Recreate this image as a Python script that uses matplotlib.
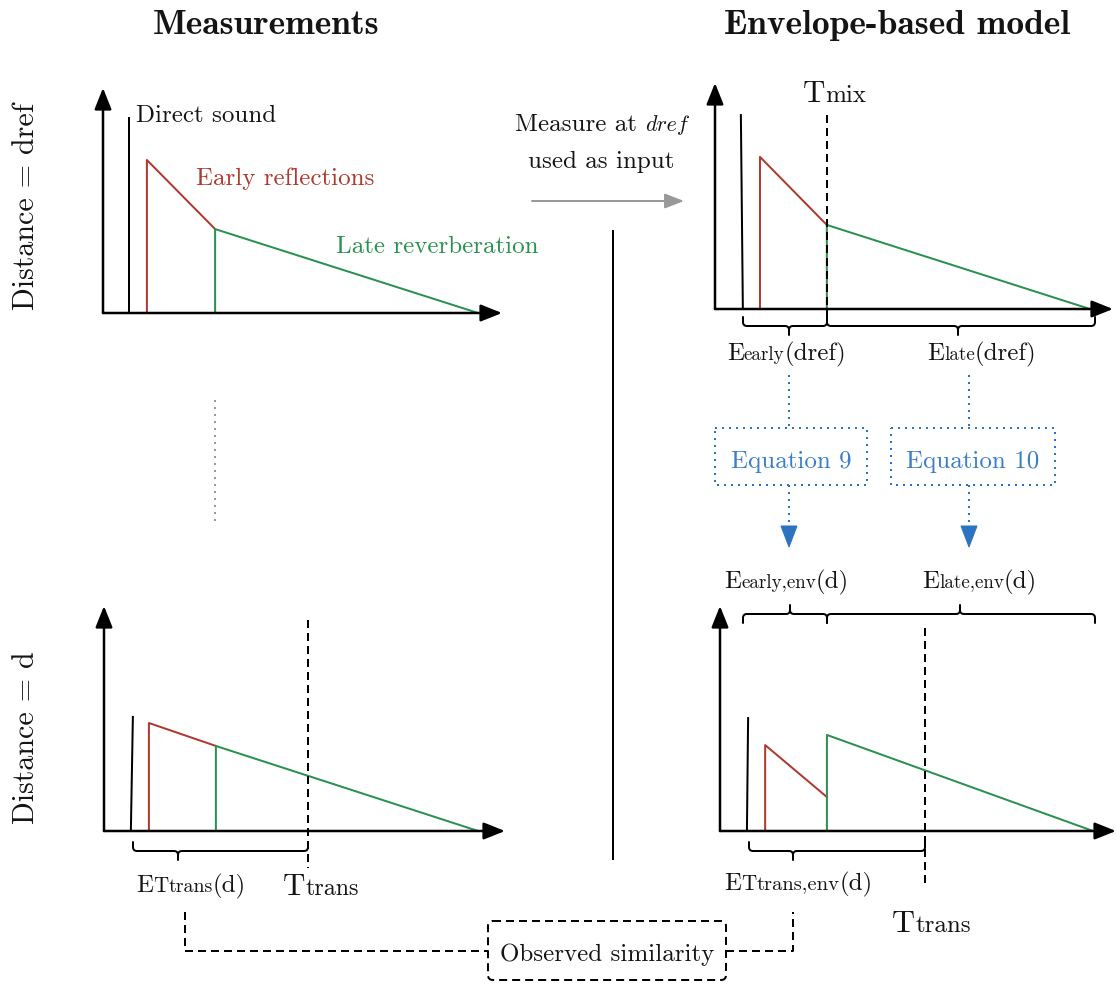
import numpy as np
import matplotlib
matplotlib.use('Agg')
import matplotlib.pyplot as plt
from matplotlib.path import Path
from matplotlib.patches import PathPatch, Rectangle, FancyBboxPatch, Polygon

# envelope values, time and level as fraction of each drawn axis
# measurement at dref (top left)
mref_direct_t = [0.065, 0.065]
mref_direct_lvl = [0.0, 0.867]
mref_early_t = [0.110, 0.110, 0.281]
mref_early_lvl = [0.0, 0.680, 0.373]
mref_late_t = [0.281, 0.281, 0.940]
mref_late_lvl = [0.0, 0.373, 0.0]

# model input at dref (top right)
env_ref_direct_t = [0.065, 0.070]
env_ref_direct_lvl = [0.858, 0.0]
env_ref_early_t = [0.113, 0.113, 0.281]
env_ref_early_lvl = [0.0, 0.673, 0.372]
env_ref_late_t = [0.281, 0.281, 0.942]
env_ref_late_lvl = [0.0, 0.372, 0.0]
t_mix = 0.281

# measurement at d (bottom left)
md_direct_t = [0.072, 0.067]
md_direct_lvl = [0.507, 0.0]
md_early_t = [0.112, 0.112, 0.279]
md_early_lvl = [0.0, 0.480, 0.378]
md_late_t = [0.279, 0.279, 0.933]
md_late_lvl = [0.0, 0.378, 0.0]
md_t_trans = 0.509

# model at d (bottom right)
env_d_direct_t = [0.071, 0.068]
env_d_direct_lvl = [0.502, 0.0]
env_d_early_t = [0.114, 0.114, 0.270]
env_d_early_lvl = [0.0, 0.382, 0.151]
env_d_late_t = [0.270, 0.270, 0.942]
env_d_late_lvl = [0.0, 0.427, 0.0]
env_d_t_trans = 0.518

W, H = 1116, 983
RED = '#b0392f'
GREEN = '#2a9150'
BLUE = '#2c73c0'
BLUE_TXT = '#3a7ec6'
TXT = '#141414'
DASH = (0, (4, 2.5))
DOT = (0, (1, 2.5))

fig = plt.figure(figsize=(W / 72, H / 72), dpi=72)
ov = fig.add_axes([0, 0, 1, 1])
ov.set_xlim(0, W)
ov.set_ylim(H, 0)
ov.axis('off')
renderer = fig.canvas.get_renderer()


def rich(x, y, pieces, ha='left', color=TXT, rot=False):
    # pieces of (text, size[, family]) drawn on a common baseline
    arts = []
    for p in pieces:
        fam = p[2] if len(p) > 2 else 'cmr10'
        t = ov.text(0, 0, p[0], fontsize=p[1], family=fam, color=color,
                    ha='left', va='baseline', rotation=90 if rot else 0,
                    rotation_mode='anchor')
        arts.append(t)
    sizes = []
    for t in arts:
        bb = t.get_window_extent(renderer)
        sizes.append(bb.height if rot else bb.width)
    total = sum(sizes)
    start = {'left': 0, 'center': -total / 2, 'right': -total}[ha]
    pos = start
    for t, s in zip(arts, sizes):
        if rot:
            t.set_position((x, y - pos))
        else:
            t.set_position((x + pos, y))
        pos += s
    return arts


def brace(x0, x1, xm, y, d, h=9, r=4):
    verts = [(x0, y - d * h), (x0, y - d * r), (x0, y), (x0 + r, y),
             (xm - r, y), (xm, y), (xm, y + d * r), (xm, y + d * h),
             (xm, y + d * r), (xm, y), (xm + r, y),
             (x1 - r, y), (x1, y), (x1, y - d * r), (x1, y - d * h)]
    codes = [Path.MOVETO, Path.LINETO, Path.CURVE3, Path.CURVE3,
             Path.LINETO, Path.CURVE3, Path.CURVE3, Path.LINETO,
             Path.MOVETO, Path.CURVE3, Path.CURVE3,
             Path.LINETO, Path.CURVE3, Path.CURVE3, Path.LINETO]
    ov.add_patch(PathPatch(Path(verts, codes), fill=False, lw=2, ec='k',
                           capstyle='round', joinstyle='round'))


def panel(x0, y0, lx, ly, direct, early, late, vline=None):
    ax = fig.add_axes([x0 / W, (H - y0) / H, lx / W, ly / H])
    ax.set_xlim(0, 1)
    ax.set_ylim(0, 1)
    ax.axis('off')
    ap = dict(arrowstyle='-|>,head_length=1.0,head_width=0.4', lw=2.5,
              color='k', mutation_scale=18, shrinkA=0, shrinkB=0)
    ax.annotate('', xy=(1, 0), xytext=(0, 0), xycoords='axes fraction',
                arrowprops=ap, annotation_clip=False)
    ax.annotate('', xy=(0, 1), xytext=(0, 0), xycoords='axes fraction',
                arrowprops=ap, annotation_clip=False)
    ax.plot(direct[0], direct[1], color='k', lw=2, clip_on=False)
    ax.plot(early[0], early[1], color=RED, lw=2, clip_on=False)
    ax.plot(late[0], late[1], color=GREEN, lw=2, clip_on=False)
    if vline is not None:
        ax.plot([vline[0]] * 2, vline[1:], color='k', lw=2, ls=DASH, clip_on=False)
    return ax


# four envelope panels
panel(103, 313, 399, 225, (mref_direct_t, mref_direct_lvl),
      (mref_early_t, mref_early_lvl), (mref_late_t, mref_late_lvl))
panel(715, 309, 398, 226, (env_ref_direct_t, env_ref_direct_lvl),
      (env_ref_early_t, env_ref_early_lvl), (env_ref_late_t, env_ref_late_lvl),
      vline=(t_mix, 0.858, -0.07))
panel(104, 831, 401, 225, (md_direct_t, md_direct_lvl),
      (md_early_t, md_early_lvl), (md_late_t, md_late_lvl),
      vline=(md_t_trans, 0.938, -0.164))
panel(720, 831, 396, 225, (env_d_direct_t, env_d_direct_lvl),
      (env_d_early_t, env_d_early_lvl), (env_d_late_t, env_d_late_lvl),
      vline=(env_d_t_trans, 0.902, -0.253))

# titles
ov.text(266, 34, 'Measurements', family='cmb10', fontsize=35.5, color=TXT,
        ha='center', va='baseline')
ov.text(897, 34, 'Envelope-based model', family='cmb10', fontsize=35.5,
        color=TXT, ha='center', va='baseline')

# row labels
rich(34, 206, [('Distance = dref', 30)], ha='center', rot=True)
rich(34, 738, [('Distance = d', 30)], ha='center', rot=True)

# top left labels
rich(136, 122, [('Direct sound', 25)])
rich(196, 185, [('Early reflections', 25)], color=RED)
rich(336, 253, [('Late reverberation', 25)], color=GREEN)

# input arrow
rich(601, 131, [('Measure at ', 25), ('dref', 22, 'cmmi10')], ha='center')
rich(601, 168, [('used as input', 25)], ha='center')
ov.annotate('', xy=(684, 201), xytext=(532, 201),
            arrowprops=dict(arrowstyle='-|>,head_length=0.9,head_width=0.35',
                            lw=2, color='#999999', mutation_scale=18,
                            shrinkA=0, shrinkB=0))

# separators
ov.plot([613, 613], [231, 859], color='k', lw=2)
ov.plot([215, 215], [400, 523], color='#999999', lw=2, ls=DOT)

# top right annotations
rich(803, 102, [('T', 31), ('mix', 25)])
brace(743, 827, 789, 326, 1)
brace(827, 1095, 958, 326, 1)
rich(727, 360, [('E', 25), ('early', 19), ('(dref)', 25)])
rich(927, 360, [('E', 25), ('late', 19), ('(dref)', 25)])

# equation boxes
for cx, x0, x1, label in [(789, 715, 867, 'Equation 9'), (969, 891, 1055, 'Equation 10')]:
    ov.plot([cx, cx], [375, 428], color=BLUE, lw=2, ls=DOT)
    ov.add_patch(Rectangle((x0, 428), x1 - x0, 57, fill=False, ec=BLUE,
                           lw=2, ls=DOT))
    rich((x0 + x1) / 2, 468, [(label, 25)], ha='center', color=BLUE_TXT)
    ov.plot([cx, cx], [485, 527], color=BLUE, lw=2, ls=DOT)
    ov.add_patch(Polygon([(cx - 8, 526), (cx + 8, 526), (cx, 547)],
                         closed=True, fc=BLUE, ec=BLUE, lw=1))

rich(724, 588, [('E', 25), ('early,env', 19), ('(d)', 25)])
rich(922, 588, [('E', 25), ('late,env', 19), ('(d)', 25)])
brace(743, 827, 790, 614, -1)
brace(827, 1095, 960, 614, -1)

# bottom annotations
brace(133, 308, 178, 851, 1)
rich(136, 892, [('E', 25), ('T', 21), ('trans', 20), ('(d)', 25)])
rich(283, 895, [('T', 31), ('trans', 24)])
brace(749, 925, 793, 851, 1)
rich(724, 890, [('E', 25), ('T', 21), ('trans,env', 20.5), ('(d)', 25)])
rich(892, 932, [('T', 32), ('trans', 25)])

# observed similarity link
ov.plot([185, 185, 488], [912, 951, 951], color='k', lw=2, ls=DASH)
ov.plot([726, 793, 793], [951, 951, 912], color='k', lw=2, ls=DASH)
ov.add_patch(FancyBboxPatch((488, 921), 238, 59,
                            boxstyle='round,pad=0,rounding_size=5',
                            fill=False, ec='k', lw=2, ls=DASH))
rich(607, 961, [('Observed similarity', 25)], ha='center')

fig.savefig('out.png', dpi=72)
